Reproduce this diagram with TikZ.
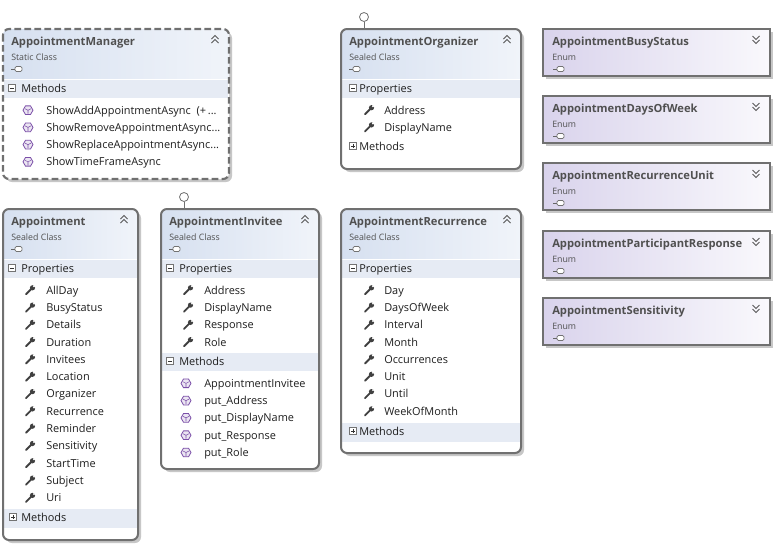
\documentclass[tikz,border=0pt]{standalone}
\usepackage{fontspec}
\setmainfont{Open Sans}
\usetikzlibrary{shapes.geometric}
\definecolor{bord}{HTML}{707070}
\definecolor{hdr}{HTML}{D6E0F0}
\definecolor{band}{HTML}{E6EBF4}
\definecolor{enm}{HTML}{D9D3EC}
\definecolor{ttl}{HTML}{505050}
\definecolor{txt}{HTML}{1E1E1E}
\definecolor{meth}{HTML}{7B4FA8}
\newcommand\ddd{...}
\tikzset{
 x=0.75pt,y=-0.75pt,
 ttlf/.style={anchor=base west,yshift=-3pt,inner sep=0,font=\fontsize{8.4pt}{9pt}\selectfont\bfseries,text=ttl},
 subf/.style={anchor=base west,yshift=-2.3pt,inner sep=0,font=\fontsize{6.6pt}{8pt}\selectfont,text=ttl},
 rowf/.style={anchor=base west,yshift=-2.9pt,inner sep=0,font=\fontsize{8.2pt}{9pt}\selectfont,text=txt},
 frame/.style={draw=bord,line width=1.5pt,rounded corners=4.5pt},
 shadow/.style={fill=black!22,rounded corners=4.5pt},
}
\newcommand\setxy[2]{\pgfmathsetmacro\ix{#1}\pgfmathsetmacro\iy{#2}}
% class icon
\newcommand\clsicon[2]{\setxy{#1}{#2}\draw[black!60,line width=0.5pt] (\ix-4,\iy)--(\ix,\iy);
 \draw[black!55,fill=white,rounded corners=1pt,line width=0.5pt] (\ix,\iy-2.5) rectangle (\ix+7,\iy+2.5);}
% up / down chevrons
\newcommand\chevup[2]{\setxy{#1}{#2}\draw[black!65,line width=0.7pt] (\ix-3.5,\iy-1)--(\ix,\iy-4.5)--(\ix+3.5,\iy-1);
 \draw[black!65,line width=0.7pt] (\ix-3.5,\iy+3)--(\ix,\iy-0.5)--(\ix+3.5,\iy+3);}
\newcommand\chevdn[2]{\setxy{#1}{#2}\draw[black!65,line width=0.7pt] (\ix-3.5,\iy-4)--(\ix,\iy-0.5)--(\ix+3.5,\iy-4);
 \draw[black!65,line width=0.7pt] (\ix-3.5,\iy)--(\ix,\iy+3.5)--(\ix+3.5,\iy);}
% expander
\newcommand\expm[2]{\setxy{#1}{#2}\draw[black!55,fill=white,line width=0.4pt] (\ix-3.5,\iy-3.5) rectangle (\ix+3.5,\iy+3.5);
 \draw[black!80,line width=0.6pt] (\ix-2,\iy)--(\ix+2,\iy);}
\newcommand\expp[2]{\expm{#1}{#2}\draw[black!80,line width=0.6pt] (\ix,\iy-2)--(\ix,\iy+2);}
% wrench and method icons
\newcommand\wrench[2]{\setxy{#1}{#2}\draw[black!75,line width=1.4pt,line cap=round] (\ix-4,\iy+4)--(\ix+2,\iy-2);
 \fill[black!75] (\ix+2.5,\iy-2.5) circle (2.6);\fill[white] (\ix+4,\iy-4) circle (1.1);}
\newcommand\methicon[2]{\setxy{#1}{#2}\node[regular polygon,regular polygon sides=6,draw=meth,fill=meth!15,line width=0.6pt,minimum size=7.5pt,inner sep=0] at (\ix,\iy) {};
 \draw[meth,line width=0.4pt] (\ix-3,\iy-1.5)--(\ix,\iy)--(\ix+3,\iy-1.5) (\ix,\iy)--(\ix,\iy+3.5);}
% class box: x1 y1 x2 y2 title subtitle
\newcommand\clsbox[6]{%
 \fill[shadow] (#1+3,#2+3) rectangle (#3+3,#4+3);
 \fill[white,rounded corners=4.5pt] (#1,#2) rectangle (#3,#4);
 \begin{scope}
 \clip[rounded corners=4.5pt] (#1,#2) rectangle (#3,#4);
 \shade[left color=hdr,right color=hdr!35] (#1,#2) rectangle (#3,#2+49);
 \end{scope}
 \node[ttlf] at (#1+8,#2+12) {#5};
 \node[subf] at (#1+8,#2+28) {#6};
 \clsicon{#1+12}{#2+40}
 \chevup{#3-14}{#2+11}
}
\newcommand\bandat[4]{% x1 x2 ycenter label
 \fill[band] (#1+1,#3-9) rectangle (#2-1,#3+9);
 \node[rowf] at (#1+18,#3) {#4};}
\newcommand\enumbox[3]{% x1 y1 title
 \fill[black!22] (#1+3,#2+3) rectangle (#1+230,#2+50);
 \shade[left color=enm,right color=enm!15,draw=bord,line width=1pt] (#1,#2) rectangle (#1+227,#2+47);
 \node[ttlf] at (#1+9,#2+12) {#3};
 \node[subf] at (#1+9,#2+28) {Enum};
 \clsicon{#1+14}{#2+40}
 \chevdn{#1+213}{#2+11}
}
\begin{document}
\begin{tikzpicture}
\useasboundingbox (0,0) rectangle (779,544);
\fill[white] (0,0) rectangle (779,544);

% AppointmentManager
\clsbox{3}{29}{229}{179}{AppointmentManager}{Static Class}
\bandat{3}{229}{89}{Methods}\expm{12}{88}
\foreach \t [count=\i] in {ShowAddAppointmentAsync\ \ (+\,\ddd,ShowRemoveAppointmentAsync\ddd,ShowReplaceAppointmentAsync\ddd,ShowTimeFrameAsync}
 {\methicon{28}{93+17.2*\i}\node[rowf] at (46,93+17.2*\i) {\t};}
\draw[bord,line width=1.6pt,rounded corners=4.5pt,dash pattern=on 5pt off 2.5pt] (3,29) rectangle (229,179);

% AppointmentOrganizer
\coordinate (org) at (364,17);
\draw[bord,line width=0.6pt] (364,22)--(364,29);
\draw[bord,line width=0.6pt,fill=white] (org) circle (4.5);
\clsbox{341}{29}{521}{169}{AppointmentOrganizer}{Sealed Class}
\bandat{341}{521}{89}{Properties}\expm{353}{88}
\foreach \t [count=\i] in {Address,DisplayName}
 {\wrench{369}{93+17.2*\i}\node[rowf] at (384,93+17.2*\i) {\t};}
\node[rowf] at (359,147) {Methods};\expp{353}{146}
\draw[frame] (341,29) rectangle (521,169);

% Enums
\enumbox{543}{29}{AppointmentBusyStatus}
\enumbox{543}{96}{AppointmentDaysOfWeek}
\enumbox{543}{163}{AppointmentRecurrenceUnit}
\enumbox{543}{231}{AppointmentParticipantResponse}
\enumbox{543}{298}{AppointmentSensitivity}

% Appointment
\clsbox{3}{209}{138}{540}{Appointment}{Sealed Class}
\bandat{3}{138}{269}{Properties}\expm{12}{268}
\foreach \t [count=\i] in {AllDay,BusyStatus,Details,Duration,Invitees,Location,Organizer,Recurrence,Reminder,Sensitivity,StartTime,Subject,Uri}
 {\wrench{30}{273+17.3*\i}\node[rowf] at (46,273+17.3*\i) {\t};}
\fill[band] (4,509) rectangle (137,528);
\node[rowf] at (21,518) {Methods};\expp{13}{517}
\draw[frame] (3,209) rectangle (138,540);

% AppointmentInvitee
\coordinate (inv) at (184,197);
\draw[bord,line width=0.6pt] (184,202)--(184,209);
\draw[bord,line width=0.6pt,fill=white] (inv) circle (4.5);
\clsbox{161}{209}{319}{469}{AppointmentInvitee}{Sealed Class}
\bandat{161}{319}{269}{Properties}\expm{170}{268}
\foreach \t [count=\i] in {Address,DisplayName,Response,Role}
 {\wrench{188}{273+17.3*\i}\node[rowf] at (204,273+17.3*\i) {\t};}
\bandat{161}{319}{362}{Methods}\expm{170}{361}
\foreach \t [count=\i] in {AppointmentInvitee,put\_Address,put\_DisplayName,put\_Response,put\_Role}
 {\methicon{186}{366+17.3*\i}\node[rowf] at (204,366+17.3*\i) {\t};}
\draw[frame] (161,209) rectangle (319,469);

% AppointmentRecurrence
\clsbox{341}{209}{521}{453}{AppointmentRecurrence}{Sealed Class}
\bandat{341}{521}{269}{Properties}\expm{353}{268}
\foreach \t [count=\i] in {Day,DaysOfWeek,Interval,Month,Occurrences,Unit,Until,WeekOfMonth}
 {\wrench{369}{273+17.3*\i}\node[rowf] at (384,273+17.3*\i) {\t};}
\fill[band] (342,423) rectangle (520,442);
\node[rowf] at (359,432) {Methods};\expp{353}{431}
\draw[frame] (341,209) rectangle (521,453);
\end{tikzpicture}
\end{document}
